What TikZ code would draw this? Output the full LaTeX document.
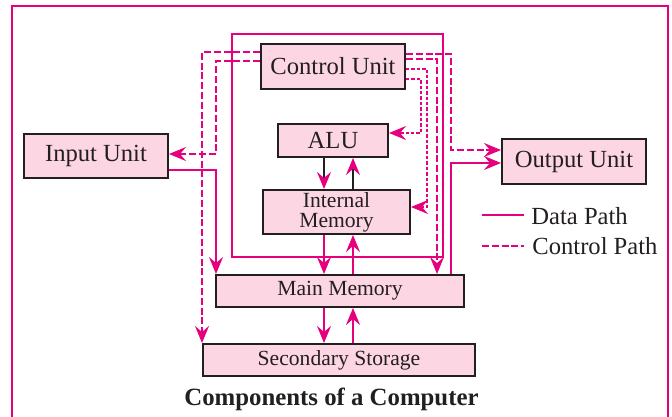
\documentclass[tikz,border=0pt]{standalone}
\usepackage{fontspec}
\setmainfont{Liberation Serif}
\usepackage{tikz}
\usepackage{xcolor}
\usetikzlibrary{arrows.meta}
\definecolor{rubine}{RGB}{230,0,126}
\definecolor{boxpink}{RGB}{253,214,227}
\definecolor{inkgray}{RGB}{35,31,32}
\tikzset{%
  tipM/.tip={Stealth[length=8.5pt,width=7pt,inset=3pt,color=rubine]},
  unitbox/.style={draw=inkgray, fill=boxpink, line width=1pt, inner sep=0pt, text=inkgray, font=\fontsize{12.3}{14}\selectfont},
  membox/.style={unitbox, align=center, font=\fontsize{10.8}{10}\selectfont},
  datap/.style={rubine, line width=0.7pt},
  ctrlp/.style={rubine, line width=0.7pt, dash pattern=on 3.5pt off 1.4pt},
  ctrlq/.style={rubine, line width=0.7pt, dash pattern=on 1.7pt off 1pt},
  %legtext/.style={anchor=base west}
}

\begin{document}
\begin{tikzpicture}[x=0.5pt,y=-0.5pt]
\useasboundingbox (0,0) rectangle (672,416);
\clip (0,0) rectangle (672,416);
\draw[rubine, line width=0.9pt] (12,6) rectangle (668,440);
% big data loop
\coordinate (loopnw) at (232,34);
\coordinate (loopse) at (443,257);
\draw[datap] (loopnw) rectangle (loopse);
% units
\node[unitbox, minimum width=72pt, minimum height=22.5pt] (ctrl) at (333,66.5) {Control Unit};
\node[unitbox, minimum width=55pt, minimum height=16.5pt] (alu) at (333,140.5) {ALU};
\node[membox, minimum width=73.5pt, minimum height=22pt] (imem) at (336.5,212) {Internal\\Memory};
\node[membox, minimum width=124pt, minimum height=16pt] (mmem) at (340,291) {Main Memory};
\node[membox, minimum width=136pt, minimum height=16pt] (sec) at (339,360) {Secondary Storage};
\node[unitbox, minimum width=72pt, minimum height=22pt] (inp) at (96,156) {Input Unit};
\node[unitbox, minimum width=72pt, minimum height=22.5pt] (out) at (574,161.5) {Output Unit};
% control path
\draw[ctrlp, -tipM] ([yshift=7.25pt]ctrl.west) -| (sec.north west);
\draw[ctrlp, -tipM] ([yshift=2.75pt]ctrl.west) -| ([xshift=23.5pt,yshift=1pt]inp.east) -- ([yshift=1pt]inp.east);
\draw[ctrlp, -tipM] ([yshift=6.25pt]ctrl.east) -| ([xshift=-25pt,yshift=5.75pt]out.west) -- ([yshift=5.75pt]out.west);
\draw[ctrlp, -tipM] ([yshift=3.75pt]ctrl.east) -| ([xshift=48.5pt]mmem.north);
\draw[ctrlq, -tipM] ([yshift=-1.25pt]ctrl.east) -| ([xshift=8pt,yshift=2.5pt]imem.east) -- ([yshift=2.5pt]imem.east);
\draw[ctrlq, -tipM] ([yshift=-6.25pt]ctrl.east) -| ([xshift=16pt,yshift=3.75pt]alu.east) -- ([yshift=3.75pt]alu.east);
% data path
\draw[datap, -tipM] ([yshift=-7pt]inp.east) -| ([xshift=0.5pt]mmem.north west);
\draw[datap, -tipM] ([xshift=55.5pt]mmem.north) |- ([yshift=-0.75pt]out.west);
\draw[inkgray, line width=0.8pt, -tipM] ([xshift=-4.5pt]alu.south) -- ([xshift=-6.25pt]imem.north);
\draw[inkgray, line width=0.8pt, -tipM] ([xshift=8.25pt]imem.north) -- ([xshift=10pt]alu.south);
\draw[datap, -tipM] ([xshift=-6.25pt]imem.south) -- ([xshift=-8pt]mmem.north);
\draw[datap, -tipM] ([xshift=6.5pt]mmem.north) -- ([xshift=8.25pt]imem.south);
\draw[datap, -tipM] ([xshift=-8pt]mmem.south) -- ([xshift=-7.5pt]sec.north);
\draw[datap, -tipM] ([xshift=7pt]sec.north) -- ([xshift=6.5pt]mmem.south);
% legend
\node[anchor=base west, inner sep=0pt, text=inkgray, font=\fontsize{12.3}{14}\selectfont] (legd) at (531,225) {Data Path};
\node[anchor=base west, inner sep=0pt, text=inkgray, font=\fontsize{12.3}{14}\selectfont] (legc) at (532,254) {Control Path};
\draw[datap] ([xshift=-24.5pt,yshift=5pt]legd.base west) -- ([xshift=-3.5pt,yshift=5pt]legd.base west);
\draw[ctrlp] ([xshift=-25pt,yshift=4pt]legc.base west) -- ([xshift=-4pt,yshift=4pt]legc.base west);
\node[anchor=base, inner sep=0pt, text=inkgray, font=\bfseries\fontsize{12.4}{14}\selectfont] (title) at (331.5,405) {Components of a Computer};
\end{tikzpicture}
\end{document}
